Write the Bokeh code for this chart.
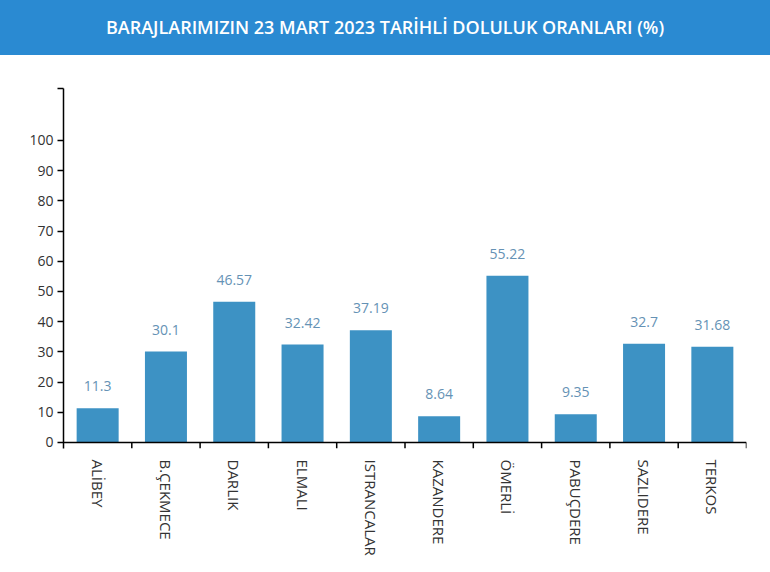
import math
from bokeh.plotting import figure
from bokeh.layouts import column
from bokeh.models import Range1d, FixedTicker, ColumnDataSource, Span, Div
from bokeh.core.properties import value
from bokeh.embed import file_html
from bokeh.resources import INLINE

title_text = "BARAJLARIMIZIN 23 MART 2023 TARİHLİ DOLULUK ORANLARI (%)"
categories = ["ALİBEY", "B.ÇEKMECE", "DARLIK", "ELMALI", "ISTRANCALAR",
              "KAZANDERE", "ÖMERLİ", "PABUÇDERE", "SAZLIDERE", "TERKOS"]
values = [11.3, 30.1, 46.57, 32.42, 37.19, 8.64, 55.22, 9.35, 32.7, 31.68]
y_ticks = [0, 10, 20, 30, 40, 50, 60, 70, 80, 90, 100]
y_min, y_max = -2, 117.2

FONT = "Open Sans"
n = len(categories)
xs = [i + 0.5 for i in range(n)]
bounds = [i for i in range(1, n + 1)]

# ---- title bar ----
t = Div(text=('<div style="width:770px;height:55px;line-height:55px;margin:0;padding:0;'
              'background:#2a8ad2;color:white;text-align:center;'
              'font-family:\'Open Sans\';font-weight:600;font-size:18px;">'
              + title_text + '</div>'),
        width=770, height=55, margin=0)

# ---- main chart ----
src = ColumnDataSource(dict(x=xs, v=values, label=[str(v) for v in values]))
p = figure(width=770, height=517, x_range=Range1d(0, n), y_range=Range1d(y_min, y_max),
           toolbar_location=None, output_backend="svg",
           min_border_left=63, min_border_right=24, min_border_top=33, min_border_bottom=124)
p.outline_line_color = None
p.grid.visible = False
p.background_fill_color = "white"
p.border_fill_color = "white"

p.vbar(x="x", top="v", bottom=0, width=0.615, source=src, fill_color="#3d92c4", line_color=None)
p.text(x="x", y="v", text="label", source=src, text_align="center", text_baseline="alphabetic",
       y_offset=-22, text_color="#6592b5", text_font=value(FONT), text_font_size="14px")

# x axis line at 0 and boundary ticks
p.add_layout(Span(location=0, dimension="width", line_color="black", line_width=1.5))
p.segment(x0=bounds, y0=[0] * n, x1=bounds, y1=[y_min] * n, line_color="black", line_width=1.5)

xa = p.xaxis[0]
xa.ticker = FixedTicker(ticks=xs)
xa.major_label_overrides = {x: c for x, c in zip(xs, categories)}
xa.axis_line_color = None
xa.major_tick_line_color = None
xa.minor_tick_line_color = None
xa.major_label_orientation = -math.pi / 2
xa.major_label_standoff = 5
xa.major_label_text_font = FONT
xa.major_label_text_font_size = "15px"
xa.major_label_text_color = "#333333"

ya = p.yaxis[0]
ya.ticker = FixedTicker(ticks=y_ticks + [y_max])
ya.major_label_overrides = {y_max: ""}
ya.axis_line_color = "black"
ya.axis_line_width = 1.5
ya.major_tick_line_color = "black"
ya.major_tick_line_width = 1.5
ya.major_tick_out = 6
ya.major_tick_in = 0
ya.minor_tick_line_color = None
ya.major_label_standoff = 4
ya.major_label_text_font = FONT
ya.major_label_text_font_size = "14px"
ya.major_label_text_color = "#333333"

layout = column(t, p, spacing=0)
open("out.html", "w").write(file_html(layout, INLINE))
